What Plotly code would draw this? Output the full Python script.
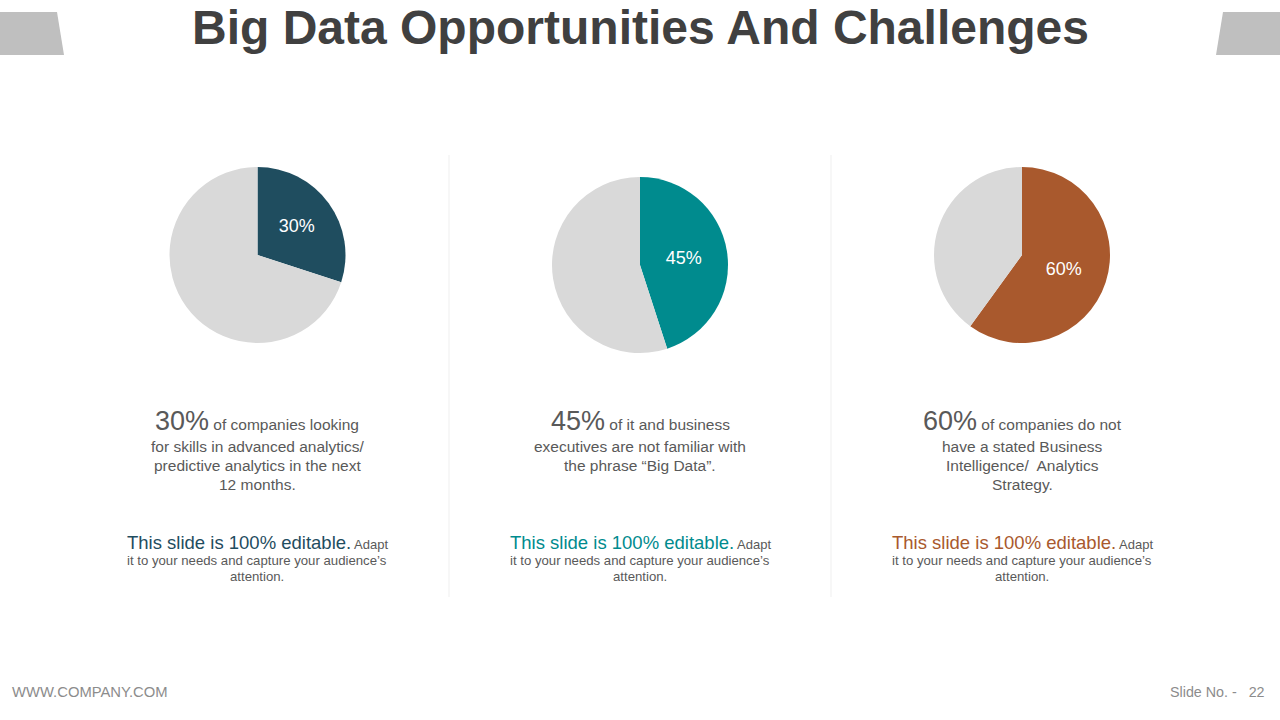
import plotly.graph_objects as go

# ---- data ----
percentages = [30, 45, 60]
pie_labels = ["30%", "45%", "60%"]
slice_colors = ["#1f4d5f", "#008b8e", "#a9592d"]
rest_color = "#d9d9d9"
desc_lines = [
    ["of companies looking", "for skills in advanced analytics/", "predictive analytics in the next", "12 months."],
    ["of it and business", "executives are not familiar with", "the phrase \u201cBig Data\u201d."],
    ["of companies do not", "have a stated Business", "Intelligence/  Analytics", "Strategy."],
]
title = "Big Data Opportunities And Challenges"
editable_head = "This slide is 100% editable."
editable_tail = "Adapt"
editable_lines = ["it to your needs and capture your audience\u2019s", "attention."]
footer_left = "WWW.COMPANY.COM"
footer_right = "Slide No. -   22"

W, H = 1280, 720
centers = [(257.5, 255), (640, 265), (1022, 255)]
R = 88
col_x = [257, 640, 1022]
FONT = "Liberation Sans, Arial, sans-serif"
GRAY = "#595959"

fig = go.Figure()
for i, p in enumerate(percentages):
    cx, cy = centers[i]
    fig.add_trace(go.Pie(
        values=[p, 100 - p],
        labels=["share", "rest"],
        text=[pie_labels[i], ""],
        textinfo="text",
        textposition="inside",
        insidetextorientation="horizontal",
        textfont=dict(color="white", size=18, family=FONT),
        marker=dict(colors=[slice_colors[i], rest_color], line=dict(width=0)),
        sort=False,
        direction="clockwise",
        rotation=0,
        hole=0,
        showlegend=False,
        hoverinfo="skip",
        domain=dict(x=[(cx - R) / W, (cx + R) / W], y=[(H - cy - R) / H, (H - cy + R) / H]),
    ))

def px(x):
    return x / W

def py(y):
    return 1 - y / H

ann = []
# title
ann.append(dict(text=f"<b>{title}</b>", x=0.5, y=py(27.5), xref="paper", yref="paper",
                showarrow=False, xanchor="center", yanchor="middle",
                font=dict(size=48, color="#404040", family=FONT)))

for i in range(3):
    cx = col_x[i]
    lines = desc_lines[i]
    ann.append(dict(text=f"<span style='font-size:27px'>{percentages[i]}%</span> {lines[0]}",
                    x=px(cx), y=py(421), xref="paper", yref="paper", showarrow=False,
                    xanchor="center", yanchor="middle",
                    font=dict(size=15.5, color=GRAY, family=FONT)))
    for j, ln in enumerate(lines[1:]):
        ann.append(dict(text=ln, x=px(cx), y=py(446 + 19 * j), xref="paper", yref="paper",
                        showarrow=False, xanchor="center", yanchor="middle",
                        font=dict(size=15.5, color=GRAY, family=FONT)))
    ann.append(dict(text=f"<span style='font-size:18.5px;color:{slice_colors[i]}'>{editable_head}</span> {editable_tail}",
                    x=px(cx), y=py(542), xref="paper", yref="paper", showarrow=False,
                    xanchor="center", yanchor="middle",
                    font=dict(size=13, color=GRAY, family=FONT)))
    for j, ln in enumerate(editable_lines):
        ann.append(dict(text=ln, x=px(cx), y=py(560 + 16 * j), xref="paper", yref="paper",
                        showarrow=False, xanchor="center", yanchor="middle",
                        font=dict(size=13.2, color=GRAY, family=FONT)))

ann.append(dict(text=footer_left, x=px(10), y=py(692), xref="paper", yref="paper",
                showarrow=False, xanchor="left", yanchor="middle",
                font=dict(size=14.8, color="#8c8c8c", family=FONT)))
ann.append(dict(text=footer_right, x=px(1267), y=py(692), xref="paper", yref="paper",
                showarrow=False, xanchor="right", yanchor="middle",
                font=dict(size=14.3, color="#8c8c8c", family=FONT)))

shapes = [
    dict(type="path", xref="paper", yref="paper",
         path=f"M 0 {py(12)} L {px(57)} {py(12)} L {px(64)} {py(55)} L 0 {py(55)} Z",
         fillcolor="#bfbfbf", line=dict(width=0)),
    dict(type="path", xref="paper", yref="paper",
         path=f"M {px(1223)} {py(12)} L 1 {py(12)} L 1 {py(55)} L {px(1216)} {py(55)} Z",
         fillcolor="#bfbfbf", line=dict(width=0)),
]
for sx in [449, 831]:
    shapes.append(dict(type="line", xref="paper", yref="paper", x0=px(sx), x1=px(sx),
                       y0=py(155), y1=py(597), line=dict(color="#efefef", width=1)))

fig.update_layout(
    width=W, height=H, margin=dict(l=0, r=0, t=0, b=0),
    paper_bgcolor="white", plot_bgcolor="white",
    annotations=ann, shapes=shapes,
)
fig.write_html(
    "out.html",
    config={"displayModeBar": False},
    post_script="document.body.style.margin='0';document.body.style.overflow='hidden';",
)
